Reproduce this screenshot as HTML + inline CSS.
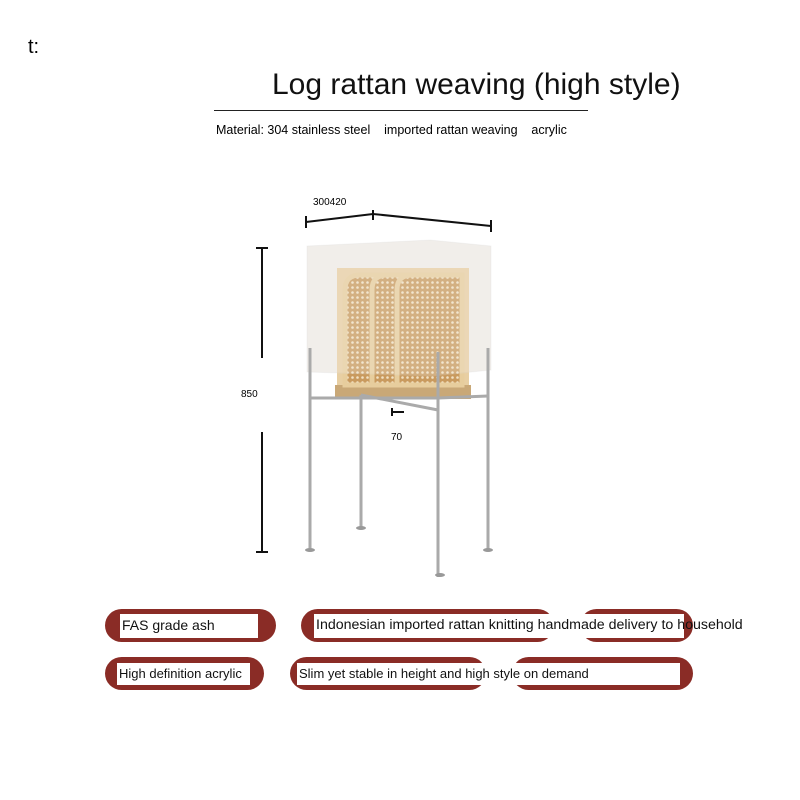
<!DOCTYPE html>
<html><head><style>
body{margin:0;width:800px;height:800px;background:#fff;position:relative;font-family:"Liberation Sans",sans-serif;overflow:hidden}
.a{position:absolute}
.p{position:absolute;background:#8a2c26;border-radius:17px}
.w{position:absolute;background:#fff;font-size:13px;color:#111;line-height:22px;white-space:nowrap;padding-left:2px}
</style></head><body>
<div class="a" style="left:28px;top:36px;font-size:20px">t:</div>
<div class="a" style="left:272px;top:68px;font-size:30px;color:#111">Log rattan weaving (high style)</div>
<div class="a" style="left:214px;top:110px;width:374px;height:1px;background:#222"></div>
<div class="a" style="left:216px;top:123px;font-size:12.5px;white-space:pre">Material: 304 stainless steel    imported rattan weaving    acrylic</div>

<svg class="a" style="left:0;top:0" width="800" height="600">
<defs><pattern id="r" width="5" height="5" patternUnits="userSpaceOnUse"><rect width="5" height="5" fill="#c99a5e"/><circle cx="2.5" cy="2.5" r="1.3" fill="#f2e2c6"/></pattern></defs>
<g stroke="#111" stroke-width="2" fill="none">
<path d="M306 222 L373 214 L491 226"/><path d="M306 216v12M373 210v10M491 220v12"/>
<path d="M262 248v110M262 432v120M256 248h12M256 552h12"/>
</g>
<text x="313" y="205" font-size="10" font-family="Liberation Sans">300420</text>
<text x="241" y="397" font-size="10" font-family="Liberation Sans">850</text>
<text x="391" y="440" font-size="10" font-family="Liberation Sans">70</text>
<path d="M392 408v8M392 412h12" stroke="#111" stroke-width="2"/>
<path d="M307 246 L430 240 L491 246 L491 370 L432 376 L307 372 Z" fill="#ece9e4" opacity=".8"/>
<rect x="337" y="268" width="132" height="128" fill="#e8cfa3"/>
<rect x="335" y="385" width="136" height="14" fill="#c9a877"/>
<path d="M345 385V290q0-15 15-15h20v110z" fill="url(#r)" stroke="#e7cd9d" stroke-width="5"/>
<path d="M372 385V290q0-15 15-15h20v110z" fill="url(#r)" stroke="#e7cd9d" stroke-width="5"/>
<path d="M397 385V290q0-15 15-15h50v110z" fill="url(#r)" stroke="#e7cd9d" stroke-width="5"/>
<path d="M307 246 L430 240 L491 246 L491 370 L432 376 L307 372 Z" fill="#f4f2ee" opacity=".25" stroke="#ddd"/>
<g stroke="#aaa" stroke-width="3">
<path d="M310 348v200M361 395v132M438 352v225M488 348v202"/>
<path d="M310 398h128M438 398l50 -2M361 395l77 15"/>
</g>
<g fill="#999"><ellipse cx="310" cy="550" rx="5" ry="2"/><ellipse cx="361" cy="528" rx="5" ry="2"/><ellipse cx="440" cy="575" rx="5" ry="2"/><ellipse cx="488" cy="550" rx="5" ry="2"/></g>
</svg>

<div class="p" style="left:105px;top:609px;width:171px;height:33px"></div>
<div class="w" style="left:120px;top:614px;width:136px;height:24px;font-size:14px">FAS grade ash</div>
<div class="p" style="left:301px;top:609px;width:253px;height:33px"></div>
<div class="p" style="left:580px;top:609px;width:113px;height:33px"></div>
<div class="w" style="left:314px;top:614px;width:368px;height:24px;font-size:14.2px">Indonesian imported rattan knitting handmade delivery to household</div>
<div class="p" style="left:105px;top:657px;width:159px;height:33px"></div>
<div class="w" style="left:117px;top:663px;width:131px;height:22px">High definition acrylic</div>
<div class="p" style="left:290px;top:657px;width:196px;height:33px"></div>
<div class="p" style="left:512px;top:657px;width:181px;height:33px"></div>
<div class="w" style="left:297px;top:663px;width:381px;height:22px">Slim yet stable in height and high style on demand</div>
</body></html>
